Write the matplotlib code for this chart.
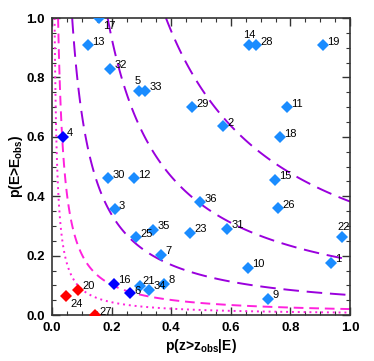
import numpy as np
import matplotlib
matplotlib.use('Agg')
import matplotlib.pyplot as plt

plt.rcParams['font.family'] = ['Liberation Sans', 'DejaVu Sans']

# point ids and positions
ids = ['1', '2', '3', '4', '5', '6', '7', '8', '9', '10', '11', '12', '13', '14', '15', '16', '17', '18',
       '19', '20', '21', '22', '23', '24', '25', '26', '27', '28', '29', '30', '31', '32', '33', '34', '35', '36']
p_z = [0.936, 0.575, 0.211, 0.037, 0.292, 0.262, 0.366, 0.377, 0.725, 0.658, 0.789, 0.275, 0.121, 0.661, 0.748, 0.208, 0.158, 0.765,
       0.910, 0.087, 0.295, 0.973, 0.463, 0.047, 0.282, 0.758, 0.145, 0.685, 0.469, 0.188, 0.587, 0.195, 0.312, 0.327, 0.340, 0.497]
p_e = [0.176, 0.635, 0.356, 0.600, 0.756, 0.075, 0.203, 0.105, 0.054, 0.160, 0.700, 0.460, 0.908, 0.908, 0.455, 0.105, 1.000, 0.598,
       0.908, 0.085, 0.098, 0.262, 0.278, 0.064, 0.262, 0.360, 0.000, 0.908, 0.700, 0.460, 0.290, 0.830, 0.756, 0.085, 0.288, 0.380]
dark_ids = ['4', '16', '6']
red_ids = ['24', '20', '27']

# combined-probability contour levels
levels = [0.05, 0.1, 0.25, 0.5, 0.75]

ticks = [0.0, 0.2, 0.4, 0.6, 0.8, 1.0]
tick_labels = ['0.0', '0.2', '0.4', '0.6', '0.8', '1.0']

fig = plt.figure(figsize=(3.74, 3.61), dpi=100)
ax = fig.add_axes([0.139, 0.127, 0.797, 0.823])

# contours of the combined (Fisher) probability
gx = np.linspace(0.0005, 1.0, 900)
gx, gy = np.meshgrid(gx, gx)
c = gx * gy
comb = c * (1 - np.log(c))
styles = {0.05: ('#ff22dd', (0, (1, 2))),
          0.1: ('#ff22dd', (0, (5, 3))),
          0.25: ('#9a00dd', (0, (8, 4))),
          0.5: ('#9a00dd', (0, (8, 4))),
          0.75: ('#9a00dd', (0, (8, 4)))}
for lev in levels:
    col, ls = styles[lev]
    ax.contour(gx, gy, comb, levels=[lev], colors=[col], linestyles=[ls], linewidths=1.4)

for i, x, y in zip(ids, p_z, p_e):
    col = '#1a8cff'
    if i in dark_ids:
        col = '#0000ff'
    if i in red_ids:
        col = '#ff0000'
    ax.plot(x, y, 'D', color=col, markersize=6.5, markeredgewidth=0, zorder=3)

# label offsets (points) for the non-default labels
offsets = {'17': (3, -9), '5': (-3, 3), '14': (-4, 4), '22': (-3, 4), '24': (3, -9),
           '6': (3, -2), '21': (2, 0), '27': (3, -1)}
for i, x, y in zip(ids, p_z, p_e):
    dx, dy = offsets.get(i, (3, -1))
    ax.annotate(i, (x, y), xytext=(dx, dy), textcoords='offset points',
                ha='left', va='bottom', fontsize=8, color='black', annotation_clip=False)

ax.set_xlim(0, 1)
ax.set_ylim(0, 1)
ax.set_xticks(ticks)
ax.set_xticklabels(tick_labels)
ax.set_yticks(ticks)
ax.set_yticklabels(tick_labels)
ax.set_xticks(np.arange(0, 1.01, 0.05), minor=True)
ax.set_yticks(np.arange(0, 1.01, 0.05), minor=True)
ax.tick_params(which='both', direction='in', top=True, right=True, color='#333333')
ax.tick_params(which='major', length=6, width=1, labelsize=9.5, pad=5)
ax.tick_params(which='minor', length=3, width=0.8)
for lab in ax.get_xticklabels() + ax.get_yticklabels():
    lab.set_fontweight('bold')
for s in ax.spines.values():
    s.set_linewidth(1.2)
    s.set_color('#333333')

ax.set_xlabel(r'p(z>z$_{\mathregular{obs}}$|E)', fontsize=10, fontweight='bold', labelpad=2)
ax.set_ylabel(r'p(E>E$_{\mathregular{obs}}$)', fontsize=10, fontweight='bold', labelpad=1)

plt.savefig('out.png', dpi=100)
